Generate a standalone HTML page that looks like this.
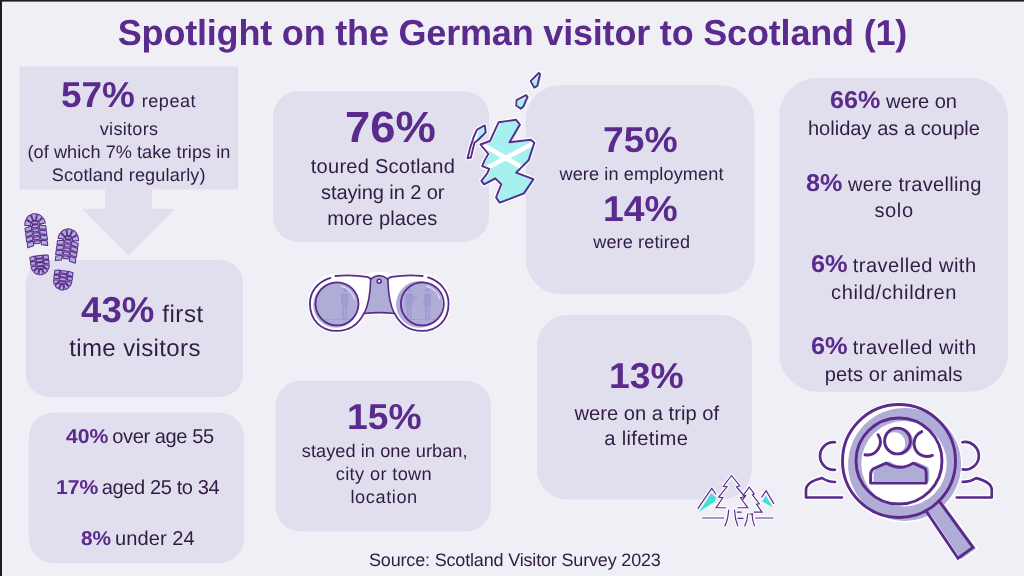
<!DOCTYPE html>
<html lang="en"><head><meta charset="utf-8"><title>Spotlight on the German visitor to Scotland (1)</title>
<style>
html,body{margin:0;padding:0}
body{width:1024px;height:576px;overflow:hidden;background:#f0eff5;position:relative;font-family:"Liberation Sans",sans-serif;text-rendering:geometricPrecision}
#bg{position:absolute;left:0;top:0}
.t{position:absolute;white-space:nowrap;line-height:1;transform-origin:0 0}
.b{font-weight:700}
.r{font-weight:400}
#bt{position:absolute;left:0;top:0;width:1024px;height:2px;background:linear-gradient(#1c1c1e 0,#1c1c1e 1px,#6f6f74 1px,#6f6f74 2px)}
#bl{position:absolute;left:0;top:0;width:2px;height:576px;background:#1c1c1e}
</style></head><body>
<svg id="bg" width="1024" height="576" viewBox="0 0 1024 576">
<rect x="19.5" y="66.5" width="218.5" height="123" fill="#e1dfee"/>
<path d="M105 189 H152 V208.75 H175.5 L128.75 255 L82 208.75 H105 Z" fill="#e1dfee"/>
<rect x="26" y="260" width="217.00" height="137.00" rx="22.83" fill="#e1dfee"/>
<rect x="28.75" y="412.5" width="215.50" height="150.75" rx="25.12" fill="#e1dfee"/>
<rect x="273" y="91.25" width="216.00" height="150.50" rx="25.08" fill="#e1dfee"/>
<rect x="275.5" y="380.75" width="215.50" height="150.75" rx="25.12" fill="#e1dfee"/>
<rect x="537" y="315" width="215.00" height="184.50" rx="30.75" fill="#e1dfee"/>
<rect x="525.75" y="85" width="228.75" height="209.25" rx="34.88" fill="#e1dfee"/>
<rect x="779.25" y="78" width="228.75" height="313.75" rx="38.12" fill="#e1dfee"/>
<g id="feet" fill="#afacd6" stroke="#5a2a8c" stroke-width="1.15" stroke-linejoin="round"><g transform="translate(35.75 230.0) rotate(-7.0)"><path transform="scale(0.86 0.92)" d="M-11.98 -6.25 L-11.79 -7.79 L-11.41 -9.30 L-10.85 -10.75 L-10.12 -12.11 L-4.39 -8.29 L-4.70 -7.72 L-4.95 -7.11 L-5.11 -6.47 L-5.19 -5.82Z M-9.26 -13.32 L-8.22 -14.46 L-7.05 -15.45 L-5.77 -16.28 L-4.40 -16.94 L-1.91 -10.34 L-2.50 -10.06 L-3.06 -9.71 L-3.56 -9.29 L-4.01 -8.81Z M-3.00 -17.41 L-1.51 -17.70 L-0.00 -17.80 L1.51 -17.70 L3.00 -17.41 L1.30 -10.53 L0.66 -10.66 L-0.00 -10.70 L-0.66 -10.66 L-1.30 -10.53Z M4.40 -16.94 L5.77 -16.28 L7.05 -15.45 L8.22 -14.46 L9.26 -13.32 L4.01 -8.81 L3.56 -9.29 L3.06 -9.71 L2.50 -10.06 L1.91 -10.34Z M10.12 -12.11 L10.85 -10.75 L11.41 -9.30 L11.79 -7.79 L11.98 -6.25 L5.19 -5.82 L5.11 -6.47 L4.95 -7.11 L4.70 -7.72 L4.39 -8.29Z M-12.20 -3.30 L-4.60 -4.90 L-4.60 -0.70 L-12.20 0.80Z M12.20 -3.30 L4.60 -4.90 L4.60 -0.70 L12.20 0.80Z M-12.20 2.20 L-4.60 0.60 L-4.60 4.80 L-12.20 6.30Z M12.20 2.20 L4.60 0.60 L4.60 4.80 L12.20 6.30Z M-12.20 7.70 L-4.60 6.10 L-4.60 10.30 L-12.20 11.80Z M12.20 7.70 L4.60 6.10 L4.60 10.30 L12.20 11.80Z M-11.70 13.20 L-4.60 11.60 L-4.60 16.70 L-11.70 18.20Z M11.70 13.20 L4.60 11.60 L4.60 16.70 L11.70 18.20Z M-3.40 -9.50 L3.40 -9.50 L3.40 -6.80 L-3.40 -6.80Z M-3.40 -5.60 L3.40 -5.60 L3.40 -2.60 L-3.40 -2.60Z M-3.40 -1.20 L3.40 -1.20 L3.40 1.80 L-3.40 1.80Z M-3.40 3.20 L3.40 3.20 L3.40 6.20 L-3.40 6.20Z M-3.40 7.60 L3.40 7.60 L3.40 10.60 L-3.40 10.60Z M-3.60 12.00 L3.60 12.00 L3.00 14.80 L-3.00 14.80Z"/><path transform="translate(0 35.3) scale(0.9 0.92)" d="M10.17 0.83 L10.00 2.07 L9.70 3.28 L9.26 4.44 L8.70 5.54 L4.26 2.61 L4.54 2.09 L4.76 1.55 L4.90 0.98 L4.98 0.39Z M7.76 6.88 L6.92 7.78 L6.00 8.58 L4.98 9.25 L3.90 9.79 L1.91 4.62 L2.44 4.36 L2.94 4.05 L3.39 3.67 L3.80 3.25Z M2.38 10.31 L1.20 10.53 L0.00 10.60 L-1.20 10.53 L-2.38 10.31 L-1.17 4.86 L-0.59 4.97 L0.00 5.00 L0.59 4.97 L1.17 4.86Z M-3.90 9.79 L-4.98 9.25 L-6.00 8.58 L-6.92 7.78 L-7.76 6.88 L-3.80 3.25 L-3.39 3.67 L-2.94 4.05 L-2.44 4.36 L-1.91 4.62Z M-8.70 5.54 L-9.26 4.44 L-9.70 3.28 L-10.00 2.07 L-10.17 0.83 L-4.98 0.39 L-4.90 0.98 L-4.76 1.55 L-4.54 2.09 L-4.26 2.61Z M-10.20 -9.60 L-4.80 -10.40 L-4.80 -6.00 L-10.20 -5.40Z M-10.20 -4.20 L-4.80 -4.80 L-4.80 -1.00 L-10.20 -0.80Z M10.20 -9.60 L4.80 -10.40 L4.80 -6.00 L10.20 -5.40Z M10.20 -4.20 L4.80 -4.80 L4.80 -1.00 L10.20 -0.80Z M-3.60 -10.20 L3.60 -10.20 L3.60 -7.60 L-3.60 -7.60Z M-3.60 -6.40 L3.60 -6.40 L3.60 -3.60 L-3.60 -3.60Z M-3.60 -2.40 L3.60 -2.40 L3.60 0.60 L-3.60 0.60Z M-3.60 1.80 L3.60 1.80 L3.60 3.80 L-3.60 3.80Z"/></g><g transform="translate(67.45 245.2) rotate(7.6)"><path transform="scale(0.86 0.92)" d="M-11.98 -6.25 L-11.79 -7.79 L-11.41 -9.30 L-10.85 -10.75 L-10.12 -12.11 L-4.39 -8.29 L-4.70 -7.72 L-4.95 -7.11 L-5.11 -6.47 L-5.19 -5.82Z M-9.26 -13.32 L-8.22 -14.46 L-7.05 -15.45 L-5.77 -16.28 L-4.40 -16.94 L-1.91 -10.34 L-2.50 -10.06 L-3.06 -9.71 L-3.56 -9.29 L-4.01 -8.81Z M-3.00 -17.41 L-1.51 -17.70 L-0.00 -17.80 L1.51 -17.70 L3.00 -17.41 L1.30 -10.53 L0.66 -10.66 L-0.00 -10.70 L-0.66 -10.66 L-1.30 -10.53Z M4.40 -16.94 L5.77 -16.28 L7.05 -15.45 L8.22 -14.46 L9.26 -13.32 L4.01 -8.81 L3.56 -9.29 L3.06 -9.71 L2.50 -10.06 L1.91 -10.34Z M10.12 -12.11 L10.85 -10.75 L11.41 -9.30 L11.79 -7.79 L11.98 -6.25 L5.19 -5.82 L5.11 -6.47 L4.95 -7.11 L4.70 -7.72 L4.39 -8.29Z M-12.20 -3.30 L-4.60 -4.90 L-4.60 -0.70 L-12.20 0.80Z M12.20 -3.30 L4.60 -4.90 L4.60 -0.70 L12.20 0.80Z M-12.20 2.20 L-4.60 0.60 L-4.60 4.80 L-12.20 6.30Z M12.20 2.20 L4.60 0.60 L4.60 4.80 L12.20 6.30Z M-12.20 7.70 L-4.60 6.10 L-4.60 10.30 L-12.20 11.80Z M12.20 7.70 L4.60 6.10 L4.60 10.30 L12.20 11.80Z M-11.70 13.20 L-4.60 11.60 L-4.60 16.70 L-11.70 18.20Z M11.70 13.20 L4.60 11.60 L4.60 16.70 L11.70 18.20Z M-3.40 -9.50 L3.40 -9.50 L3.40 -6.80 L-3.40 -6.80Z M-3.40 -5.60 L3.40 -5.60 L3.40 -2.60 L-3.40 -2.60Z M-3.40 -1.20 L3.40 -1.20 L3.40 1.80 L-3.40 1.80Z M-3.40 3.20 L3.40 3.20 L3.40 6.20 L-3.40 6.20Z M-3.40 7.60 L3.40 7.60 L3.40 10.60 L-3.40 10.60Z M-3.60 12.00 L3.60 12.00 L3.00 14.80 L-3.00 14.80Z"/><path transform="translate(0 35.3) scale(0.9 0.92)" d="M10.17 0.83 L10.00 2.07 L9.70 3.28 L9.26 4.44 L8.70 5.54 L4.26 2.61 L4.54 2.09 L4.76 1.55 L4.90 0.98 L4.98 0.39Z M7.76 6.88 L6.92 7.78 L6.00 8.58 L4.98 9.25 L3.90 9.79 L1.91 4.62 L2.44 4.36 L2.94 4.05 L3.39 3.67 L3.80 3.25Z M2.38 10.31 L1.20 10.53 L0.00 10.60 L-1.20 10.53 L-2.38 10.31 L-1.17 4.86 L-0.59 4.97 L0.00 5.00 L0.59 4.97 L1.17 4.86Z M-3.90 9.79 L-4.98 9.25 L-6.00 8.58 L-6.92 7.78 L-7.76 6.88 L-3.80 3.25 L-3.39 3.67 L-2.94 4.05 L-2.44 4.36 L-1.91 4.62Z M-8.70 5.54 L-9.26 4.44 L-9.70 3.28 L-10.00 2.07 L-10.17 0.83 L-4.98 0.39 L-4.90 0.98 L-4.76 1.55 L-4.54 2.09 L-4.26 2.61Z M-10.20 -9.60 L-4.80 -10.40 L-4.80 -6.00 L-10.20 -5.40Z M-10.20 -4.20 L-4.80 -4.80 L-4.80 -1.00 L-10.20 -0.80Z M10.20 -9.60 L4.80 -10.40 L4.80 -6.00 L10.20 -5.40Z M10.20 -4.20 L4.80 -4.80 L4.80 -1.00 L10.20 -0.80Z M-3.60 -10.20 L3.60 -10.20 L3.60 -7.60 L-3.60 -7.60Z M-3.60 -6.40 L3.60 -6.40 L3.60 -3.60 L-3.60 -3.60Z M-3.60 -2.40 L3.60 -2.40 L3.60 0.60 L-3.60 0.60Z M-3.60 1.80 L3.60 1.80 L3.60 3.80 L-3.60 3.80Z"/></g></g><!-- Scotland map -->
<g id="scot" stroke-linejoin="round" stroke-linecap="round">
  <g fill="#fff" stroke="#fff" stroke-width="4.5">
    <path d="M498.7 122.2 L516.1 119.8 L519.9 124.5 L509.5 142.2 L530.8 139.8 L534.3 142.7 L528.6 160.1 L516.1 172.6 L533.4 179.2 L523.9 193.4 L499.6 202.6 L496.1 197.4 L501.3 184.4 L495.3 178.3 L484 184.4 L481.4 180.9 L487.4 173.1 L489.2 168.8 L482.2 166.2 L484.8 160.1 L488.3 154 L480.5 144.5 L490 141 Z"/>
    <path d="M477 129.7 L484.8 125.4 L485.7 132.3 L478.8 139.25 L474.4 142.7 L470.9 157.5 L467.5 158.3 L470.1 147.9 L473.5 137.5 Z"/>
    <path d="M516.6 100.1 L526.1 95.1 L527.5 96.9 L523.4 106.4 L520.7 108.7 L516.2 105.5 Z"/>
    <path d="M530.6 81.1 L538.7 73 L540.1 73.9 L537.4 85.7 L534.2 87.6 Z"/>
  </g>
  <g fill="#a6f0f0" transform="translate(1.4 0.9)">
    <path d="M498.7 122.2 L516.1 119.8 L519.9 124.5 L509.5 142.2 L530.8 139.8 L534.3 142.7 L528.6 160.1 L516.1 172.6 L533.4 179.2 L523.9 193.4 L499.6 202.6 L496.1 197.4 L501.3 184.4 L495.3 178.3 L484 184.4 L481.4 180.9 L487.4 173.1 L489.2 168.8 L482.2 166.2 L484.8 160.1 L488.3 154 L480.5 144.5 L490 141 Z"/>
    <path d="M477 129.7 L484.8 125.4 L485.7 132.3 L478.8 139.25 L474.4 142.7 Z"/>
    <path d="M516.6 100.1 L526.1 95.1 L527.5 96.9 L523.4 106.4 L520.7 108.7 L516.2 105.5 Z"/>
    <path d="M530.6 81.1 L538.7 73 L540.1 73.9 L537.4 85.7 L534.2 87.6 Z"/>
  </g>
  <g stroke="#fff" stroke-width="4.6" stroke-linecap="butt" fill="none">
    <path d="M481.5 144 L523 168"/>
    <path d="M486 168.5 L534 143"/>
  </g>
  <g fill="none" stroke="#5a2a8c" stroke-width="1.9">
    <path d="M498.7 122.2 L516.1 119.8 L519.9 124.5 L509.5 142.2 L530.8 139.8 L534.3 142.7 L528.6 160.1 L516.1 172.6 L533.4 179.2 L523.9 193.4 L499.6 202.6 L496.1 197.4 L501.3 184.4 L495.3 178.3 L484 184.4 L481.4 180.9 L487.4 173.1 L489.2 168.8 L482.2 166.2 L484.8 160.1 L488.3 154 L480.5 144.5 L490 141 Z"/>
    <path d="M477 129.7 L484.8 125.4 L485.7 132.3 L478.8 139.25 L474.4 142.7 L470.9 157.5 L467.5 158.3 L470.1 147.9 L473.5 137.5 Z"/>
    <path d="M516.6 100.1 L526.1 95.1 L527.5 96.9 L523.4 106.4 L520.7 108.7 L516.2 105.5 Z"/>
    <path d="M530.6 81.1 L538.7 73 L540.1 73.9 L537.4 85.7 L534.2 87.6 Z"/>
  </g>
</g>

<!-- Binoculars : zoomed coords (scale 1/6.095) -->
<g id="bino" transform="translate(296 264) scale(0.16407)" stroke-linejoin="round" stroke-linecap="round">
  <g fill="#fff" stroke="#fff" stroke-width="26">
    <path d="M85 240 C85 140 150 72 250 72 L430 78 Q507 40 585 78 L765 72 C865 72 930 140 930 240 C930 340 865 408 765 408 C700 408 640 370 600 300 Q507 290 415 300 C380 370 320 408 250 408 C150 408 85 340 85 240 Z"/>
  </g>
  <!-- barrels -->
  <path d="M85 240 C85 140 150 72 250 72 L430 78 Q455 85 458 95 C455 200 440 260 415 300 C380 370 320 408 250 408 C150 408 85 340 85 240 Z" fill="#fff"/>
  <path d="M930 240 C930 140 865 72 765 72 L585 78 Q560 85 557 95 C560 200 575 260 600 300 C635 370 695 408 765 408 C865 408 930 340 930 240 Z" fill="#fff"/>
  <!-- lens fills -->
  <circle cx="243" cy="250" r="138" fill="#afacd6"/>
  <circle cx="752" cy="246" r="142" fill="#afacd6"/>
  <!-- people silhouettes -->
  <g fill="#a29bcf">
    <circle cx="297" cy="160" r="13"/><path d="M280 180 H314 Q320 182 320 195 V255 H312 V335 H300 V262 H294 V335 H282 V255 H274 V195 Q274 182 280 180 Z"/>
    <circle cx="690" cy="160" r="13"/><path d="M673 180 H707 Q713 182 713 195 L745 205 V213 L713 210 V255 H705 V335 H693 V262 H687 V335 H675 V255 H667 V195 Q667 182 673 180 Z"/>
    <circle cx="800" cy="160" r="13"/><path d="M783 180 H817 Q823 182 823 195 V255 H815 V335 H803 V262 H797 V335 H785 V255 H777 V195 Q777 182 783 180 Z"/>
    <rect x="150" y="335" width="200" height="5"/><rect x="670" y="335" width="190" height="5"/>
  </g>
  <!-- bridge -->
  <path d="M455 92 Q507 50 560 92 C562 200 578 262 600 302 Q507 290 415 302 C437 262 453 200 455 92 Z" fill="#afacd6" stroke="#5a2a8c" stroke-width="10"/>
  <circle cx="507" cy="105" r="12" fill="#fff" stroke="#5a2a8c" stroke-width="10"/>
  <!-- outlines -->
  <g fill="none" stroke="#5a2a8c" stroke-width="11">
    <path d="M210 85 C130 110 85 170 85 240 C85 340 150 408 250 408 C320 408 380 370 415 300"/>
    <path d="M240 73 Q340 64 432 79 Q450 84 456 92"/>
    <path d="M805 82 C885 108 930 170 930 240 C930 340 865 408 765 408 C695 408 635 370 600 300"/>
    <path d="M772 73 Q672 64 583 79 Q565 84 559 92"/>
    <circle cx="250" cy="243" r="131"/>
    <circle cx="770" cy="243" r="131"/>
  </g>
  <g fill="none" stroke="#fff" stroke-width="5">
    <path d="M275 135 A 112 112 0 0 1 358 215"/>
    <path d="M795 135 A 112 112 0 0 1 878 215"/>
  </g>
</g>

<!-- Trees : zoomed coords (scale 1/8) -->
<g id="trees" transform="translate(688 464) scale(0.125)" stroke-linejoin="miter" stroke-linecap="round" fill="none">
  <g stroke="#fff" stroke-width="28" stroke-linejoin="round">
    <path d="M348 92 L283 178 L312 182 L245 265 L278 270 L225 350 L300 350 M348 92 L415 175 L388 182 L455 262 L420 270 L478 350 L400 350"/>
    <path d="M490 185 L530 240 L515 245 L570 318 L548 322 L592 385 L530 385 M490 185 L442 250"/>
    <path d="M80 355 L190 195 L222 240 M590 265 L625 213 L685 315"/>
    <path d="M118 432 H285 M540 432 H680 M325 368 Q322 440 295 495 M372 368 Q375 440 398 495 M478 398 Q476 450 455 495 M512 398 Q514 450 532 495"/>
  </g>
  <path d="M88 382 L185 235 L222 268 L215 300 Z" fill="#3fe0d8"/>
  <path d="M622 252 L595 300 L678 345 Z" fill="#3fe0d8"/>
  <g stroke="#5a2a8c" stroke-width="9.5">
    <path d="M348 92 L283 178 L312 182 L245 265 L278 270 L225 350 L300 350"/>
    <path d="M348 92 L415 175 L388 182 L455 262 L420 270 L478 350 L400 350"/>
    <path d="M490 185 L530 240 L515 245 L570 318 L548 322 L592 385 L530 385"/>
    <path d="M490 185 L442 250 L460 254 L436 287"/>
    <path d="M80 355 L190 195 L222 240"/>
    <path d="M590 265 L625 213 L685 315"/>
    <path d="M118 432 H285 M540 432 H680"/>
    <path d="M325 368 Q322 440 295 495 M372 368 Q375 440 398 495"/>
    <path d="M478 398 Q476 450 455 495 M512 398 Q514 450 532 495"/>
    <path d="M395 385 H425 M400 435 H440 M495 400 H520"/>
  </g>
</g>

<!-- Magnifier with people -->
<g id="mag" stroke-linecap="round" stroke-linejoin="round" fill="none">
  <!-- halo -->
  <g stroke="#fff" stroke-width="5.5">
    <path d="M835 442.25 A13.8 13.8 0 1 0 835 469.75 M842 497.5 H806 V490 Q806 482 822 478 Q828 482 835 482"/>
    <path d="M962.4 442.25 A13.8 13.8 0 1 1 962.75 469.4 M956.75 497.5 H991.75 V490 Q991.75 482 976.1 478.1 Q970 482 962.75 481.9"/>
  </g>
  <circle cx="899.5" cy="461.5" r="59.5" fill="#fff"/><circle cx="904.6" cy="464.4" r="58" fill="#fff"/>
  <path d="M939 500.8 L973 547.5 L958 558.3 L926 510.8 Z" fill="#fff" stroke="#fff" stroke-width="5"/>
  <path d="M942 501.8 L976 548.5 L961 559.3 L929 511.8 Z" fill="#fff" stroke="#fff" stroke-width="3"/>
  <!-- outside people -->
  <g stroke="#5a2a8c" stroke-width="2.7">
    <path d="M835 442.25 A13.8 13.8 0 1 0 835 469.75"/>
    <path d="M842 497.5 H806 V490 Q806 482 822 478 Q828 482 835 482"/>
    <path d="M962.4 442.25 A13.8 13.8 0 1 1 962.75 469.4"/>
    <path d="M956.75 497.5 H991.75 V490 Q991.75 482 976.1 478.1 Q970 482 962.75 481.9"/>
  </g>
  <!-- lavender ring + handle -->
  <path d="M942 501.8 L976 548.5 L961 559.3 L929 511.8 Z" fill="#afacd6"/>
  <circle cx="904.6" cy="464.4" r="56.5" fill="#afacd6"/>
  <circle cx="904" cy="463.75" r="42.75" fill="#fff"/>
  <!-- centre person -->
  <circle cx="900" cy="441.5" r="13.2" fill="#afacd6"/>
  <circle cx="894" cy="443.5" r="11.2" fill="#fff"/>
  <path d="M873.6 481.6 V472.9 Q874 468.5 876.75 467 L889.25 461.6 Q903 470 916.1 461.6 L928 467 Q929.25 468.5 929.25 472.9 V481.6 Z" fill="#afacd6"/>
  <g stroke="#5a2a8c" stroke-width="2.9">
    <circle cx="897.5" cy="441" r="12.9"/>
    <path d="M870.6 483.1 V474.4 Q871 470 873.75 468.5 L886.25 463.1 Q900 471.5 913.1 463.1 L925 468.5 Q926.25 470 926.25 474.4 V483.1 Z"/>
    <path d="M878.1 434.75 A13 13 0 0 1 865 454.75"/>
    <path d="M921.75 431.6 A13 13 0 0 0 932.4 455.4"/>
    <circle cx="899" cy="461" r="56.5"/>
    <circle cx="899" cy="461" r="43"/>
    <path d="M939 500.8 L973 547.5 L958 558.3 L926 510.8" stroke-linejoin="miter"/>
  </g>
</g>

</svg>
<div class="t b" style="left:117.75px;top:15.00px;font-size:36.0px;letter-spacing:-0.185px;color:#5a2a8c">Spotlight on the German visitor to Scotland (1)</div>
<div class="t b" style="left:61.22px;top:77.00px;font-size:36.0px;letter-spacing:0px;color:#5a2a8c;transform:scaleX(1.0251)">57%</div>
<div class="t r" style="left:141.75px;top:92.00px;font-size:18.1px;letter-spacing:0.5px;color:#301c44">repeat</div>
<div class="t r" style="left:99.75px;top:120.00px;font-size:18.1px;letter-spacing:0.286px;color:#301c44">visitors</div>
<div class="t r" style="left:27.50px;top:143.00px;font-size:18.1px;letter-spacing:0.07px;color:#301c44">(of which 7% take trips in</div>
<div class="t r" style="left:51.75px;top:166.00px;font-size:18.1px;letter-spacing:0.167px;color:#301c44">Scotland regularly)</div>
<div class="t b" style="left:80.74px;top:292.00px;font-size:36.0px;letter-spacing:0px;color:#5a2a8c;transform:scaleX(1.0177)">43%</div>
<div class="t r" style="left:162.25px;top:303.00px;font-size:24.01px;letter-spacing:0.562px;color:#301c44">first</div>
<div class="t r" style="left:69.25px;top:337.00px;font-size:24.01px;letter-spacing:0.375px;color:#301c44">time visitors</div>
<div class="t b" style="left:65.99px;top:427.00px;font-size:20.1px;letter-spacing:0px;color:#5a2a8c;transform:scaleX(1.057)">40%</div>
<div class="t r" style="left:112.25px;top:427.00px;font-size:20.07px;letter-spacing:-0.4px;color:#301c44">over age 55</div>
<div class="t b" style="left:55.69px;top:478.00px;font-size:20.1px;letter-spacing:0px;color:#5a2a8c;transform:scaleX(1.0519)">17%</div>
<div class="t r" style="left:101.75px;top:478.00px;font-size:20.07px;letter-spacing:-0.396px;color:#301c44">aged 25 to 34</div>
<div class="t b" style="left:81.22px;top:529.00px;font-size:20.1px;letter-spacing:0px;color:#5a2a8c;transform:scaleX(1.036)">8%</div>
<div class="t r" style="left:115.00px;top:529.00px;font-size:20.07px;letter-spacing:0.071px;color:#301c44">under 24</div>
<div class="t b" style="left:345.17px;top:106.00px;font-size:43.7px;letter-spacing:0px;color:#5a2a8c;transform:scaleX(1.0386)">76%</div>
<div class="t r" style="left:310.75px;top:157.00px;font-size:20.07px;letter-spacing:0.25px;color:#301c44">toured Scotland</div>
<div class="t r" style="left:321.00px;top:183.00px;font-size:20.07px;letter-spacing:-0.107px;color:#301c44">staying in 2 or</div>
<div class="t r" style="left:327.25px;top:209.00px;font-size:20.07px;letter-spacing:0.075px;color:#301c44">more places</div>
<div class="t b" style="left:346.67px;top:399.00px;font-size:36.0px;letter-spacing:0px;color:#5a2a8c;transform:scaleX(1.0364)">15%</div>
<div class="t r" style="left:301.75px;top:442.00px;font-size:18.2px;letter-spacing:0.053px;color:#301c44">stayed in one urban,</div>
<div class="t r" style="left:335.75px;top:465.00px;font-size:18.2px;letter-spacing:0.364px;color:#301c44">city or town</div>
<div class="t r" style="left:350.50px;top:488.00px;font-size:18.2px;letter-spacing:0.571px;color:#301c44">location</div>
<div class="t r" style="left:369.00px;top:551.00px;font-size:18.01px;letter-spacing:-0.171px;color:#301c44">Source: Scotland Visitor Survey 2023</div>
<div class="t b" style="left:603.45px;top:122.00px;font-size:36.0px;letter-spacing:0px;color:#5a2a8c;transform:scaleX(1.036)">75%</div>
<div class="t r" style="left:559.50px;top:165.00px;font-size:18.1px;letter-spacing:0.118px;color:#301c44">were in employment</div>
<div class="t b" style="left:603.42px;top:191.00px;font-size:36.0px;letter-spacing:0px;color:#5a2a8c;transform:scaleX(1.0364)">14%</div>
<div class="t r" style="left:593.25px;top:233.00px;font-size:18.1px;letter-spacing:0.114px;color:#301c44">were retired</div>
<div class="t b" style="left:608.92px;top:358.00px;font-size:36.0px;letter-spacing:0px;color:#5a2a8c;transform:scaleX(1.0364)">13%</div>
<div class="t r" style="left:574.50px;top:404.00px;font-size:20.17px;letter-spacing:0.0px;color:#301c44">were on a trip of</div>
<div class="t r" style="left:604.25px;top:429.00px;font-size:20.17px;letter-spacing:0.333px;color:#301c44">a lifetime</div>
<div class="t b" style="left:830.17px;top:89.00px;font-size:24.3px;letter-spacing:0px;color:#5a2a8c;transform:scaleX(1.033)">66%</div>
<div class="t r" style="left:886.00px;top:92.00px;font-size:20.07px;letter-spacing:-0.083px;color:#301c44">were on</div>
<div class="t r" style="left:807.90px;top:119.00px;font-size:20.07px;letter-spacing:0.019px;color:#301c44">holiday as a couple</div>
<div class="t b" style="left:806.47px;top:172.00px;font-size:24.3px;letter-spacing:0px;color:#5a2a8c;transform:scaleX(1.037)">8%</div>
<div class="t r" style="left:848.00px;top:175.00px;font-size:20.07px;letter-spacing:0.286px;color:#301c44">were travelling</div>
<div class="t r" style="left:874.50px;top:201.00px;font-size:20.07px;letter-spacing:0.583px;color:#301c44">solo</div>
<div class="t b" style="left:810.71px;top:253.00px;font-size:24.3px;letter-spacing:0px;color:#5a2a8c;transform:scaleX(1.0448)">6%</div>
<div class="t r" style="left:852.75px;top:256.00px;font-size:20.07px;letter-spacing:0.481px;color:#301c44">travelled with</div>
<div class="t r" style="left:831.00px;top:283.00px;font-size:20.07px;letter-spacing:0.635px;color:#301c44">child/children</div>
<div class="t b" style="left:810.71px;top:335.00px;font-size:24.3px;letter-spacing:0px;color:#5a2a8c;transform:scaleX(1.0448)">6%</div>
<div class="t r" style="left:852.75px;top:338.00px;font-size:20.07px;letter-spacing:0.481px;color:#301c44">travelled with</div>
<div class="t r" style="left:824.75px;top:365.00px;font-size:20.07px;letter-spacing:0.125px;color:#301c44">pets or animals</div>
<div id="bt"></div><div id="bl"></div>
</body></html>
